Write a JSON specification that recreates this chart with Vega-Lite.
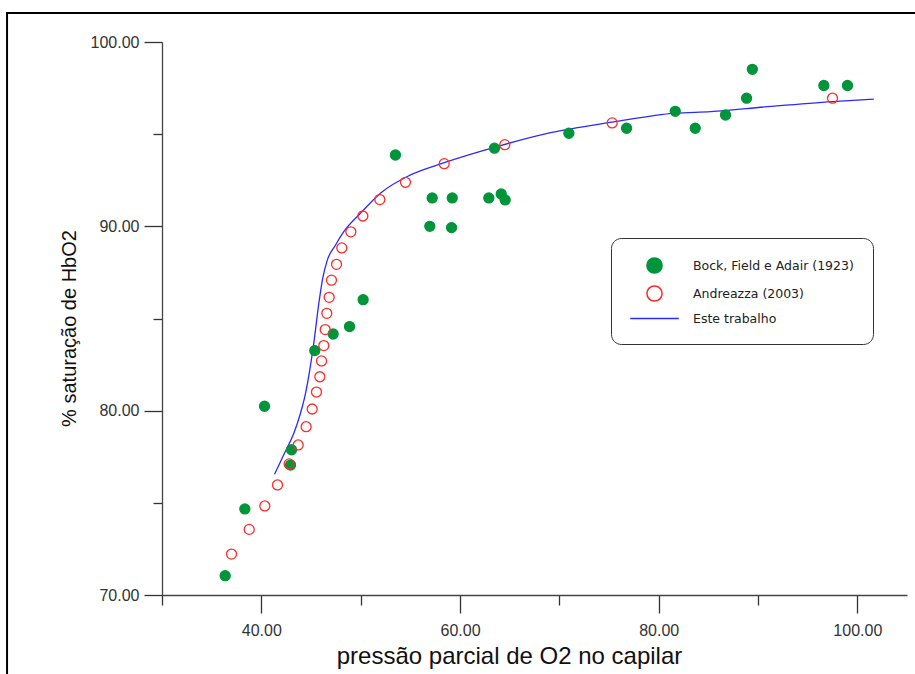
{
  "$schema": "https://vega.github.io/schema/vega-lite/v6.json",
  "width": 745,
  "height": 553,
  "autosize": "none",
  "padding": {"left": 162, "top": 42, "right": 8, "bottom": 79},
  "background": "white",
  "config": {
    "view": {"stroke": null},
    "font": "Liberation Sans",
    "axis": {
      "grid": false,
      "domainColor": "#444444",
      "domainWidth": 1.3,
      "tickColor": "#333333",
      "tickWidth": 1.3,
      "labelColor": "#333333",
      "labelFont": "Liberation Sans",
      "titleFont": "Liberation Sans",
      "titleFontWeight": "normal",
      "titleColor": "#111111",
      "format": ".2f"
    }
  },
  "datasets": {
    "medidas": [
      {"serie": "Bock, Field e Adair (1923)", "pO2": 36.36, "sat": 71.05},
      {"serie": "Bock, Field e Adair (1923)", "pO2": 38.34, "sat": 74.67},
      {"serie": "Bock, Field e Adair (1923)", "pO2": 40.32, "sat": 80.24},
      {"serie": "Bock, Field e Adair (1923)", "pO2": 42.94, "sat": 77.05},
      {"serie": "Bock, Field e Adair (1923)", "pO2": 43.04, "sat": 77.88},
      {"serie": "Bock, Field e Adair (1923)", "pO2": 45.38, "sat": 83.26},
      {"serie": "Bock, Field e Adair (1923)", "pO2": 47.23, "sat": 84.16},
      {"serie": "Bock, Field e Adair (1923)", "pO2": 48.88, "sat": 84.56},
      {"serie": "Bock, Field e Adair (1923)", "pO2": 50.25, "sat": 86.02},
      {"serie": "Bock, Field e Adair (1923)", "pO2": 53.5, "sat": 93.87},
      {"serie": "Bock, Field e Adair (1923)", "pO2": 56.96, "sat": 90.0},
      {"serie": "Bock, Field e Adair (1923)", "pO2": 57.2, "sat": 91.54},
      {"serie": "Bock, Field e Adair (1923)", "pO2": 59.15, "sat": 89.93},
      {"serie": "Bock, Field e Adair (1923)", "pO2": 59.22, "sat": 91.54},
      {"serie": "Bock, Field e Adair (1923)", "pO2": 62.9, "sat": 91.54},
      {"serie": "Bock, Field e Adair (1923)", "pO2": 63.47, "sat": 94.24},
      {"serie": "Bock, Field e Adair (1923)", "pO2": 64.15, "sat": 91.76},
      {"serie": "Bock, Field e Adair (1923)", "pO2": 64.55, "sat": 91.43},
      {"serie": "Bock, Field e Adair (1923)", "pO2": 70.96, "sat": 95.05},
      {"serie": "Bock, Field e Adair (1923)", "pO2": 76.77, "sat": 95.32},
      {"serie": "Bock, Field e Adair (1923)", "pO2": 81.67, "sat": 96.24},
      {"serie": "Bock, Field e Adair (1923)", "pO2": 83.68, "sat": 95.32},
      {"serie": "Bock, Field e Adair (1923)", "pO2": 86.73, "sat": 96.04},
      {"serie": "Bock, Field e Adair (1923)", "pO2": 88.85, "sat": 96.95},
      {"serie": "Bock, Field e Adair (1923)", "pO2": 89.43, "sat": 98.52},
      {"serie": "Bock, Field e Adair (1923)", "pO2": 96.63, "sat": 97.64},
      {"serie": "Bock, Field e Adair (1923)", "pO2": 99.01, "sat": 97.64},
      {"serie": "Andreazza (2003)", "pO2": 37.0, "sat": 72.22},
      {"serie": "Andreazza (2003)", "pO2": 38.78, "sat": 73.56},
      {"serie": "Andreazza (2003)", "pO2": 40.35, "sat": 74.83},
      {"serie": "Andreazza (2003)", "pO2": 41.63, "sat": 75.97},
      {"serie": "Andreazza (2003)", "pO2": 42.8, "sat": 77.11},
      {"serie": "Andreazza (2003)", "pO2": 43.71, "sat": 78.14},
      {"serie": "Andreazza (2003)", "pO2": 44.51, "sat": 79.13},
      {"serie": "Andreazza (2003)", "pO2": 45.12, "sat": 80.09},
      {"serie": "Andreazza (2003)", "pO2": 45.55, "sat": 81.01},
      {"serie": "Andreazza (2003)", "pO2": 45.89, "sat": 81.84},
      {"serie": "Andreazza (2003)", "pO2": 46.06, "sat": 82.7},
      {"serie": "Andreazza (2003)", "pO2": 46.29, "sat": 83.53},
      {"serie": "Andreazza (2003)", "pO2": 46.43, "sat": 84.4},
      {"serie": "Andreazza (2003)", "pO2": 46.59, "sat": 85.28},
      {"serie": "Andreazza (2003)", "pO2": 46.83, "sat": 86.15},
      {"serie": "Andreazza (2003)", "pO2": 47.06, "sat": 87.08},
      {"serie": "Andreazza (2003)", "pO2": 47.57, "sat": 87.94},
      {"serie": "Andreazza (2003)", "pO2": 48.1, "sat": 88.83},
      {"serie": "Andreazza (2003)", "pO2": 49.01, "sat": 89.7},
      {"serie": "Andreazza (2003)", "pO2": 50.22, "sat": 90.56},
      {"serie": "Andreazza (2003)", "pO2": 51.93, "sat": 91.45},
      {"serie": "Andreazza (2003)", "pO2": 54.51, "sat": 92.39},
      {"serie": "Andreazza (2003)", "pO2": 58.41, "sat": 93.4},
      {"serie": "Andreazza (2003)", "pO2": 64.51, "sat": 94.43},
      {"serie": "Andreazza (2003)", "pO2": 75.32, "sat": 95.61},
      {"serie": "Andreazza (2003)", "pO2": 97.5, "sat": 96.95}
    ],
    "modelo": [
      {"serie": "Este trabalho", "pO2": 41.33, "sat": 76.55},
      {"serie": "Este trabalho", "pO2": 42.33, "sat": 77.69},
      {"serie": "Este trabalho", "pO2": 43.27, "sat": 78.77},
      {"serie": "Este trabalho", "pO2": 43.94, "sat": 79.86},
      {"serie": "Este trabalho", "pO2": 44.45, "sat": 80.94},
      {"serie": "Este trabalho", "pO2": 45.28, "sat": 83.66},
      {"serie": "Este trabalho", "pO2": 45.79, "sat": 85.83},
      {"serie": "Este trabalho", "pO2": 46.15, "sat": 87.1},
      {"serie": "Este trabalho", "pO2": 46.6, "sat": 88.1},
      {"serie": "Este trabalho", "pO2": 47.47, "sat": 88.99},
      {"serie": "Este trabalho", "pO2": 48.3, "sat": 89.71},
      {"serie": "Este trabalho", "pO2": 49.98, "sat": 90.71},
      {"serie": "Este trabalho", "pO2": 51.99, "sat": 91.8},
      {"serie": "Este trabalho", "pO2": 55.02, "sat": 92.79},
      {"serie": "Este trabalho", "pO2": 58.34, "sat": 93.44},
      {"serie": "Este trabalho", "pO2": 64.08, "sat": 94.38},
      {"serie": "Este trabalho", "pO2": 69.12, "sat": 95.08},
      {"serie": "Este trabalho", "pO2": 75.32, "sat": 95.65},
      {"serie": "Este trabalho", "pO2": 81.67, "sat": 96.14},
      {"serie": "Este trabalho", "pO2": 85.22, "sat": 96.22},
      {"serie": "Este trabalho", "pO2": 90.93, "sat": 96.49},
      {"serie": "Este trabalho", "pO2": 97.5, "sat": 96.77},
      {"serie": "Este trabalho", "pO2": 101.66, "sat": 96.9}
    ]
  },
  "layer": [
    {
      "data": {"values": [{}]},
      "mark": {"type": "rect", "fill": null, "stroke": "#000000", "strokeWidth": 2},
      "encoding": {
        "x": {"datum": 14.4, "type": "quantitative", "scale": {"domain": [30, 105]}},
        "x2": {"datum": 112},
        "y": {"datum": 101.58, "type": "quantitative", "scale": {"domain": [70, 100]}},
        "y2": {"datum": 60}
      }
    },
    {
      "data": {"name": "modelo"},
      "mark": {"type": "line", "interpolate": "monotone", "strokeWidth": 1.3, "stroke": "#2a2aff"},
      "encoding": {
        "x": {"field": "pO2", "type": "quantitative"},
        "y": {"field": "sat", "type": "quantitative"}
      }
    },
    {
      "data": {"name": "medidas"},
      "mark": {"type": "point", "filled": true, "size": 100, "strokeWidth": 1.3, "opacity": 1},
      "encoding": {
        "x": {
          "field": "pO2",
          "type": "quantitative",
          "scale": {"domain": [30, 105], "nice": false, "zero": false},
          "axis": {
            "title": "pressão parcial de O2 no capilar",
            "titleFontSize": 24,
            "labelFontSize": 16,
            "values": [30, 40, 50, 60, 70, 80, 90, 100],
            "labelExpr": "datum.value % 20 === 0 ? datum.label : ''",
            "tickSize": {"condition": {"test": "datum.value % 20 === 0", "value": 18}, "value": 10},
            "labelPadding": 9,
            "labelFlush": false,
            "labelOverlap": false,
            "titleX": 347,
            "titleY": 68,
            "titleBaseline": "alphabetic"
          }
        },
        "y": {
          "field": "sat",
          "type": "quantitative",
          "scale": {"domain": [70, 100], "nice": false, "zero": false},
          "axis": {
            "title": "% saturação de HbO2",
            "titleFontSize": 20,
            "labelFontSize": 16,
            "values": [70, 75, 80, 85, 90, 95, 100],
            "labelExpr": "datum.value % 10 === 0 ? datum.label : ''",
            "tickSize": {"condition": {"test": "datum.value % 10 === 0", "value": 18}, "value": 9},
            "labelPadding": 5,
            "labelFlush": false,
            "labelOverlap": false,
            "titleX": -87,
            "titleY": 286,
            "titleBaseline": "alphabetic"
          }
        },
        "shape": {
          "field": "serie",
          "type": "nominal",
          "scale": {
            "domain": ["Bock, Field e Adair (1923)", "Andreazza (2003)", "Este trabalho"],
            "range": ["circle", "circle", "M-3.2,0H3.2"]
          }
        },
        "fill": {
          "field": "serie",
          "type": "nominal",
          "scale": {
            "domain": ["Bock, Field e Adair (1923)", "Andreazza (2003)", "Este trabalho"],
            "range": ["#00953a", "transparent", "transparent"]
          }
        },
        "stroke": {
          "field": "serie",
          "type": "nominal",
          "scale": {
            "domain": ["Bock, Field e Adair (1923)", "Andreazza (2003)", "Este trabalho"],
            "range": ["#00953a", "#ff2a2a", "#2a2aff"]
          },
          "legend": {
            "title": null,
            "orient": "none",
            "legendX": 449,
            "legendY": 196,
            "direction": "vertical",
            "padding": 19,
            "cornerRadius": 10,
            "strokeColor": "#333333",
            "fillColor": "white",
            "symbolSize": 230,
            "symbolStrokeWidth": 1.5,
            "symbolOffset": 16,
            "rowPadding": 5,
            "labelOffset": 30,
            "labelLimit": 300,
            "labelFont": "DejaVu Sans",
            "labelFontSize": 12.5,
            "labelColor": "#222222"
          }
        }
      }
    }
  ]
}
